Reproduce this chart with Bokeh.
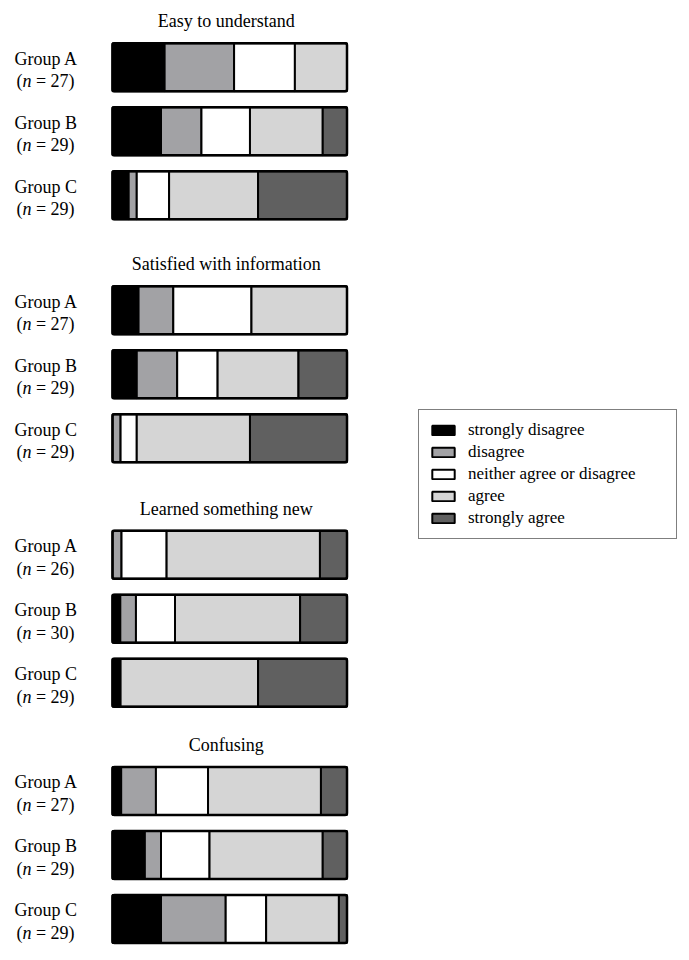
from bokeh.plotting import figure
from bokeh.models import Range1d, Legend, LegendItem, ColumnDataSource
from bokeh.core.properties import value
from bokeh.embed import file_html
from bokeh.resources import INLINE

# ---------------- data ----------------
questions = ["Easy to understand", "Satisfied with information",
             "Learned something new", "Confusing"]
groups = ["Group A", "Group B", "Group C"]
responses = ["strongly disagree", "disagree", "neither agree or disagree",
             "agree", "strongly agree"]
colors = ["#000000", "#a2a2a5", "#ffffff", "#d5d5d5", "#606060"]

# response counts per group: [strongly disagree, disagree, neither, agree, strongly agree]
easy_counts = [[6, 8, 7, 6, 0], [6, 5, 6, 9, 3], [2, 1, 4, 11, 11]]
satisfied_counts = [[3, 4, 9, 11, 0], [3, 5, 5, 10, 6], [0, 1, 2, 14, 12]]
learned_counts = [[0, 1, 5, 17, 3], [1, 2, 5, 16, 6], [1, 0, 0, 17, 11]]
confusing_counts = [[1, 4, 6, 13, 3], [4, 2, 6, 14, 3], [6, 8, 5, 9, 1]]

easy_n = [27, 29, 29]
satisfied_n = [27, 29, 29]
learned_n = [26, 30, 29]
confusing_n = [27, 29, 29]

all_counts = [easy_counts, satisfied_counts, learned_counts, confusing_counts]
all_n = [easy_n, satisfied_n, learned_n, confusing_n]

# ---------------- layout ----------------
FIG_W, FIG_H = 681, 952
ORIGIN = 0.0           # page px where the canvas starts
PAGE_X0 = 112.0        # page x of 0 %
PX_PER_PCT = 2.345
panel_y = [66.7, 309.7, 554.2, 790.4]   # centre of first bar of each panel (page px)
GROUP_PITCH = 64.0
BAR_H = 48.0
FONT = "Liberation Serif"

def pct_at(page_x):
    return (page_x - PAGE_X0) / PX_PER_PCT

p = figure(width=FIG_W, height=FIG_H, output_backend="svg", toolbar_location=None,
           x_range=Range1d(pct_at(ORIGIN), pct_at(ORIGIN + FIG_W)),
           y_range=Range1d(ORIGIN + FIG_H, ORIGIN),
           min_border=0, x_axis_location=None, y_axis_location=None)
p.grid.visible = False
p.outline_line_color = None
p.background_fill_color = "white"
p.border_fill_color = "white"

# segments
seg = {r: dict(y=[], left=[], right=[]) for r in responses}
outline = dict(y=[], left=[], right=[])
for q, (counts, ns) in enumerate(zip(all_counts, all_n)):
    for g, (row, n) in enumerate(zip(counts, ns)):
        yc = panel_y[q] + g * GROUP_PITCH
        cum = 0.0
        for r, c in zip(responses, row):
            share = 100.0 * c / n
            if c > 0:
                seg[r]["y"].append(yc)
                seg[r]["left"].append(cum)
                seg[r]["right"].append(cum + share)
            cum += share
        outline["y"].append(yc)
        outline["left"].append(0.0)
        outline["right"].append(cum)

renderers = []
for r, col in zip(responses, colors):
    rend = p.hbar(y="y", left="left", right="right", height=BAR_H,
                  source=ColumnDataSource(seg[r]),
                  fill_color=col, line_color="black", line_width=2)
    renderers.append(rend)

p.hbar(y="y", left="left", right="right", height=BAR_H,
       source=ColumnDataSource(outline), fill_alpha=0,
       line_color="black", line_width=2.5, border_radius=2)

# titles
p.text(x=[48.5] * len(questions), y=[py - 46.0 for py in panel_y], text=questions,
       text_font=value(FONT), text_font_size="18px", text_color="black",
       text_align="center", text_baseline="alphabetic")

# group labels
LX = pct_at(14)
gy, gt, ny, nt = [], [], [], []
for q, ns in enumerate(all_n):
    for g, (name, n) in enumerate(zip(groups, ns)):
        yc = panel_y[q] + g * GROUP_PITCH
        gy.append(yc - 8.5)
        gt.append(name)
        ny.append(yc + 14)
        nt.append("= %d)" % n)

common = dict(text_font=value(FONT), text_font_size="18px", text_color="black",
              text_align="left", text_baseline="alphabetic")
p.text(x=[LX] * len(gy), y=gy, text=gt, **common)
p.text(x=[LX + 0.8] * len(ny), y=ny, text=["("] * len(ny), **common)
p.text(x=[LX + 0.8] * len(ny), y=ny, text=["n"] * len(ny), x_offset=6.0,
       text_font_style="italic", **common)
p.text(x=[LX + 0.8] * len(ny), y=ny, text=nt, x_offset=19.5, **common)

# legend (box: page x 418..676, y 413..539)
legend = Legend(items=[LegendItem(label=r, renderers=[rend])
                       for r, rend in zip(responses, renderers)],
                location=(418 - ORIGIN, FIG_H - (539 - ORIGIN)),
                border_line_color="black", border_line_width=1.5,
                background_fill_color="white", background_fill_alpha=1.0,
                label_text_font=FONT, label_text_font_size="17px",
                label_text_color="black",
                glyph_width=28, glyph_height=12, label_height=20,
                label_standoff=11, spacing=2, padding=10, margin=0,
                label_width=198)
p.add_layout(legend)

open("out.html", "w").write(file_html(p, INLINE))
